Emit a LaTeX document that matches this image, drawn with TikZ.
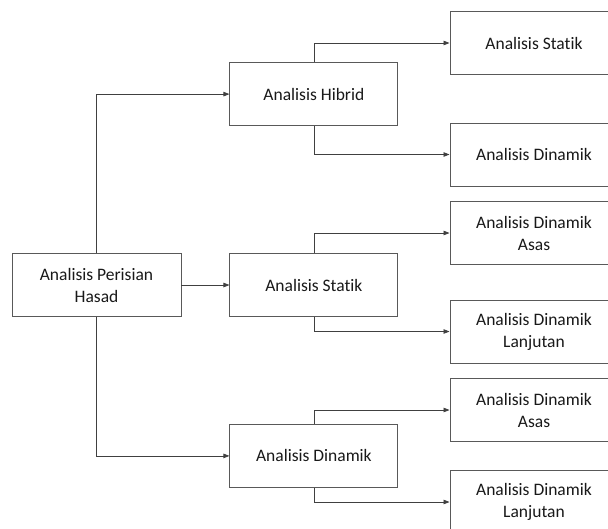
\documentclass[tikz,border=0pt]{standalone}
\usepackage{fontspec}
\setmainfont[Ligatures={NoCommon,NoRare}]{Carlito}
\usetikzlibrary{arrows.meta, positioning}
\tikzstyle{box} = [rectangle, draw=black!65, line width=0.9pt, align=center, text=black!90, minimum width=168pt, minimum height=63pt, inner sep=2pt, font=\fontsize{17.5}{22}\selectfont]
\tikzstyle{arrow} = [-{Triangle[length=6pt, width=4.5pt]}, draw=black!75, line width=0.8pt]

\begin{document}
\begin{tikzpicture}[x=1pt, y=-1pt]
\clip (0,0) rectangle (608,528);
\fill[white] (0,0) rectangle (608,528);

% Root and second level
\node[box, minimum width=169pt] (root) at (96.5,285) {Analisis Perisian\\Hasad};
\node[box, right=48pt of root] (statik) {Analisis Statik};
\node[box, above=127pt of statik] (hibrid) {Analisis Hibrid};
\node[box, below=107pt of statik] (dinamik) {Analisis Dinamik};

% Third level (right column, runs past the page edge)
\node[box] (hStatik) at (534,43) {Analisis Statik};
\node[box] (hDinamik) at (534,154.5) {Analisis Dinamik};
\node[box] (sAsas) at (534,233) {Analisis Dinamik\\Asas};
\node[box] (sLanjutan) at (534,331.5) {Analisis Dinamik\\Lanjutan};
\node[box] (dAsas) at (534,410) {Analisis Dinamik\\Asas};
\node[box] (dLanjutan) at (534,502) {Analisis Dinamik\\Lanjutan};

% Root to second level
\draw[arrow] (root.north) |- (hibrid.west);
\draw[arrow] (root.east) -- (statik.west);
\draw[arrow] (root.south) |- (dinamik.west);

% Second level to right column
\draw[arrow] (hibrid.north) |- (hStatik.west);
\draw[arrow] (hibrid.south) |- (hDinamik.west);
\draw[arrow] (statik.north) |- (sAsas.west);
\draw[arrow] (statik.south) |- (sLanjutan.west);
\draw[arrow] (dinamik.north) |- (dAsas.west);
\draw[arrow] (dinamik.south) |- (dLanjutan.west);

\end{tikzpicture}
\end{document}
